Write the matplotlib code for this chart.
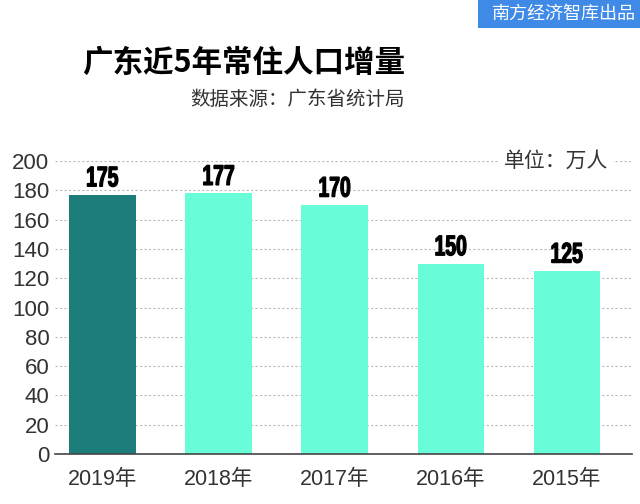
import matplotlib
matplotlib.use('Agg')
import matplotlib.pyplot as plt
from matplotlib.patches import Rectangle, PathPatch
from matplotlib.textpath import TextPath
from matplotlib.font_manager import FontProperties
from matplotlib.transforms import Affine2D, ScaledTranslation

# 数据
years = ['2019年', '2018年', '2017年', '2016年', '2015年']
bar_heights = [177, 178, 170, 130, 125]   # 柱子实际高度
value_labels = ['175', '177', '170', '150', '125']  # 柱顶标注
yticks = [0, 20, 40, 60, 80, 100, 120, 140, 160, 180, 200]

dark = '#1c7d7a'
light = '#68fdd8'
colors = [dark] + [light] * (len(years) - 1)

cjk = ['Noto Sans CJK SC', 'DejaVu Sans']
latin = ['Liberation Sans', 'Noto Sans CJK SC', 'DejaVu Sans']

fig = plt.figure(figsize=(6.4, 5.04), dpi=100)
ax = fig.add_axes([0.086, 0.099, 0.9015, 0.5815])

x = range(len(years))
bars = ax.bar(x, bar_heights, width=0.575, color=colors, zorder=2)

ax.set_xlim(-0.41, 4.56)
ax.set_ylim(0, 200)

# 柱顶数字：用横向压缩的粗体路径模拟窄体字
num_font = FontProperties(family='Liberation Sans', weight='bold')
for b, lab in zip(bars, value_labels):
    tp = TextPath((0, 0), lab, size=20.5, prop=num_font)
    ext = tp.get_extents()
    sx = 0.68
    tr = (Affine2D().translate(-(ext.x0 + ext.width / 2), 6).scale(sx / 72, 1 / 72)
          + fig.dpi_scale_trans
          + ScaledTranslation(b.get_x() + b.get_width() / 2, b.get_height(), ax.transData))
    ax.add_patch(PathPatch(tp, transform=tr, facecolor='black', edgecolor='black',
                           linewidth=0.9, clip_on=False, zorder=4))

ax.set_yticks(yticks)
ax.set_yticklabels([str(t) for t in yticks], family=latin, fontsize=16, color='#333333')
ax.set_xticks(list(x))
ax.set_xticklabels(years, family=latin, fontsize=15.5, color='#333333')
ax.tick_params(axis='both', length=0)
ax.tick_params(axis='x', pad=11)
ax.tick_params(axis='y', pad=4)

ax.yaxis.grid(True, linestyle=(0, (2, 2)), color='#bbbbbb', linewidth=0.8, zorder=0)
ax.set_axisbelow(True)
for s in ['top', 'right', 'left']:
    ax.spines[s].set_visible(False)
ax.spines['bottom'].set_color('#444444')
ax.spines['bottom'].set_linewidth(1.2)
ax.spines['bottom'].set_zorder(3)

# 单位
ax.text(0.958, 1.0, '单位：万人', transform=ax.transAxes, ha='right', va='center',
        fontsize=15, family=cjk, color='#333333', zorder=5,
        bbox=dict(facecolor='white', edgecolor='none', pad=4))

# 标题
fig.text(0.633, 0.876, '广东近5年常住人口增量', ha='right', va='center',
         fontsize=22, fontweight='bold', family=cjk, color='black')
fig.text(0.632, 0.803, '数据来源：广东省统计局', ha='right', va='center',
         fontsize=14, family=cjk, color='#333333')

# 右上角标签
fig.patches.append(Rectangle((478 / 640, 1 - 28 / 504), 162 / 640, 28 / 504,
                             transform=fig.transFigure, facecolor='#3f8ae6',
                             edgecolor='none'))
fig.text(0.993, 1 - 14 / 504, '南方经济智库出品', ha='right', va='center',
         fontsize=13, family=cjk, color='white')

fig.savefig('out.png', dpi=100)
